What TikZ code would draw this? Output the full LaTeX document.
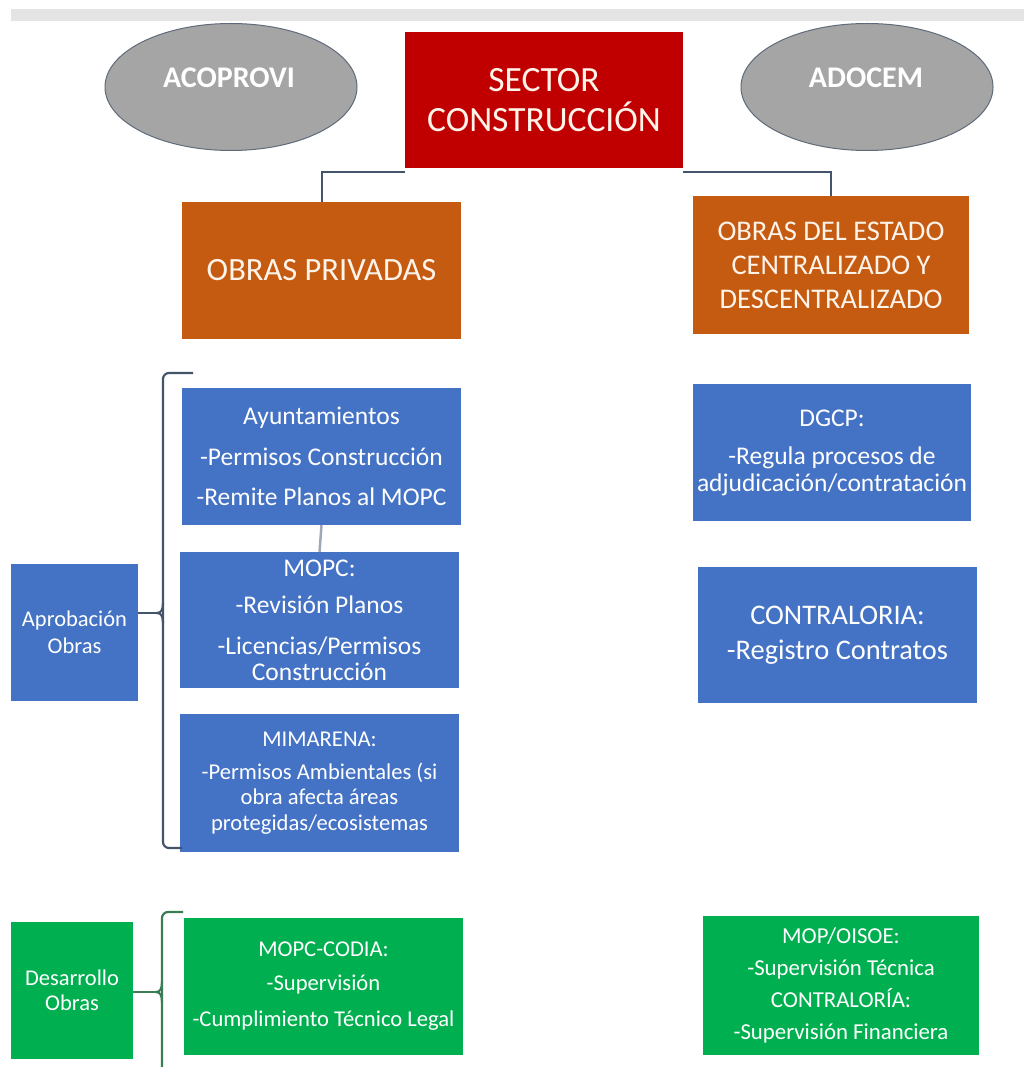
\documentclass[tikz,border=0pt]{standalone}
\usepackage{fontspec}
\setmainfont{Carlito}
\usetikzlibrary{shapes.geometric}
\definecolor{cred}{HTML}{C00000}
\definecolor{corange}{HTML}{C55A11}
\definecolor{cblue}{HTML}{4472C4}
\definecolor{cgreen}{HTML}{00B050}
\definecolor{cgray}{HTML}{A5A5A5}
\definecolor{cgrayline}{HTML}{5F6B7A}
\definecolor{cconn}{HTML}{44546A}
\definecolor{cbar}{HTML}{E4E4E4}
\definecolor{cgbracket}{HTML}{3A7D55}
\definecolor{cthin}{HTML}{A0A8B8}
\definecolor{ccream}{HTML}{FFF4EA}
\newcommand{\fs}[2]{\fontsize{#1}{#2}\selectfont}
\tikzset{
  bx/.style={rectangle, inner sep=0pt, text=white, align=center},
  redbox/.style={bx, fill=cred, text=ccream},
  orbox/.style={bx, fill=corange, text=ccream},
  bluebox/.style={bx, fill=cblue},
  greenbox/.style={bx, fill=cgreen},
  ell/.style={ellipse, fill=cgray, draw=cgrayline, line width=1pt, inner sep=0pt, minimum width=252, minimum height=127},
  elltext/.style={text=white, font=\bfseries\fs{30}{32}, inner sep=0pt},
  conn/.style={draw=cconn, line width=2pt},
  thin/.style={draw=cthin, line width=2.5pt},
  bracket/.style={draw=cconn, line width=2.2pt},
  gbracket/.style={draw=cgbracket, line width=2.2pt},
}
\begin{document}
\begin{tikzpicture}[x=1pt,y=-1pt]
\useasboundingbox (0,0) rectangle (1024,1067);
\fill[white] (0,0) rectangle (1024,1067);
\fill[cbar] (11,9) rectangle (1024,21);

% ellipses
\node[ell] (acoprovi) at (231,87) {};
\node[elltext] (acoprovitext) at (229,78) {ACOPROVI};
\node[ell] (adocem) at (867,87) {};
\node[elltext] (adocemtext) at (866,78) {ADOCEM};

% top box
\node[redbox, minimum width=278, minimum height=136, font=\fs{35.5}{40}] (sector) at (544,100) {SECTOR\\CONSTRUCCIÓN};

% orange boxes
\node[orbox, minimum width=279, minimum height=137, font=\fs{32.5}{34}] (priv) at (321.5,270.5) {OBRAS PRIVADAS};
\node[orbox, minimum width=276, minimum height=138, font=\fs{28.5}{34}] (estado) at (831,265) {OBRAS DEL ESTADO\\CENTRALIZADO Y\\DESCENTRALIZADO};

\draw[conn] ([yshift=-4pt]sector.south west) -| (priv.north);
\draw[conn] ([yshift=-4pt]sector.south east) -| (estado.north);

% left blue column
\node[bluebox, minimum width=279, minimum height=137, font=\fs{25.5}{27}] (ayunt) at (321.5,456.5) {Ayuntamientos\\[14pt]-Permisos Construcción\\[13pt]-Remite Planos al MOPC};
\node[bluebox, minimum width=279, minimum height=136, font=\fs{25.5}{26}] (mopc) at (319.5,620) {MOPC:\\[11pt]-Revisión Planos\\[15pt]-Licencias/Permisos\\Construcción};
\node[bluebox, minimum width=279, minimum height=138, font=\fs{22.6}{25.5}] (mima) at (319.5,783) {MIMARENA:\\[7pt]-Permisos Ambientales (si\\obra afecta áreas\\protegidas/ecosistemas};
\draw[thin] (ayunt.south) -- (mopc.north);

\node[bluebox, minimum width=127, minimum height=137, font=\fs{22.5}{27}] (apro) at (74.5,632.5) {Aprobación\\Obras};

\coordinate (btip) at (157,613);
\draw[bracket, rounded corners=6pt] (193,373) -- (163,373) -- (163,848) -- (182,848);
\draw[bracket] (163,603) .. controls (163,610) and (161,613) .. (btip) .. controls (161,613) and (163,616) .. (163,623);
\draw[bracket] (apro.east |- btip) -- (btip);

% right blue column
\node[bluebox, minimum width=278, minimum height=137, font=\fs{25.5}{27}] (dgcp) at (832,452.5) {DGCP:\\[11pt]-Regula procesos de\\adjudicación/contratación};
\node[bluebox, minimum width=279, minimum height=136, font=\fs{28.4}{30}] (contra) at (837.5,635) {CONTRALORIA:\\[5pt]-Registro Contratos};

% green row
\node[greenbox, minimum width=122, minimum height=137, font=\fs{22.5}{25}] (des) at (72,990.5) {Desarrollo\\Obras};
\node[greenbox, minimum width=279, minimum height=137, font=\fs{22.6}{25}] (codia) at (323.5,986.5) {MOPC-CODIA:\\[9pt]-Supervisión\\[11pt]-Cumplimiento Técnico Legal};
\node[greenbox, minimum width=276, minimum height=139, font=\fs{22.8}{25}] (oisoe) at (841,985.5) {MOP/OISOE:\\[7pt]-Supervisión Técnica\\[7pt]CONTRALORÍA:\\[7pt]-Supervisión Financiera};

\coordinate (gtip) at (156,992);
\draw[gbracket, rounded corners=6pt] (183,912) -- (162,912) -- (162,1067);
\draw[gbracket] (162,982) .. controls (162,989) and (160,992) .. (gtip) .. controls (160,992) and (162,995) .. (162,1002);
\draw[gbracket] (des.east |- gtip) -- (gtip);
\end{tikzpicture}
\end{document}
